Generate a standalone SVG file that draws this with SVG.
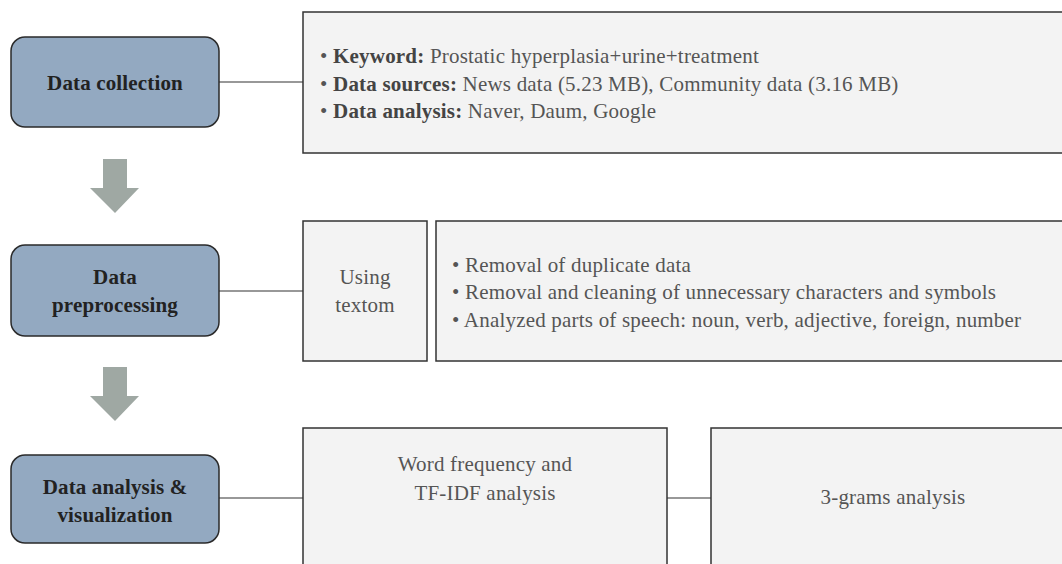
<svg xmlns="http://www.w3.org/2000/svg" width="1062" height="564" viewBox="0 0 1062 564">
<style>
.node{fill:#93a9c1;stroke:#2a2a2a;stroke-width:1.5}
.box{fill:#f3f3f3;stroke:#333;stroke-width:1.5}
.nt{font-family:"Liberation Serif",serif;font-size:21px;letter-spacing:0.15px;font-weight:bold;fill:#222;text-anchor:middle}
.bt{font-family:"Liberation Serif",serif;font-size:21px;letter-spacing:0.2px;fill:#555}
.b{font-weight:bold;fill:#444}
.c{text-anchor:middle}
.conn{stroke:#333;stroke-width:1.2;fill:none}
.arr{fill:#9fa8a3}
</style>
<rect width="1062" height="564" fill="#fff"/>
<g id="connectors">
<line class="conn" x1="219" y1="82" x2="303" y2="82"/>
<line class="conn" x1="219" y1="291" x2="303" y2="291"/>
<line class="conn" x1="219" y1="498" x2="303" y2="498"/>
<line class="conn" x1="667" y1="498" x2="711" y2="498"/>
<polygon class="arr" points="103,159 127,159 127,188 139,188 115,213 90,188 103,188"/>
<polygon class="arr" points="103,367 127,367 127,396 139,396 115,421 90,396 103,396"/>
</g>
<g id="node-collection">
<rect class="node" x="11" y="37" width="208" height="90" rx="14"/>
<text class="nt" x="115" y="90">Data collection</text>
</g>
<g id="box-collection">
<rect class="box" x="303" y="12" width="770" height="141"/>
<text class="bt" x="320" y="63">• <tspan class="b">Keyword:</tspan> Prostatic hyperplasia+urine+treatment</text>
<text class="bt" x="320" y="91">• <tspan class="b">Data sources:</tspan> News data (5.23 MB), Community data (3.16 MB)</text>
<text class="bt" x="320" y="118">• <tspan class="b">Data analysis:</tspan> Naver, Daum, Google</text>
</g>
<g id="node-preprocessing">
<rect class="node" x="11" y="245" width="208" height="91" rx="14"/>
<text class="nt" x="115" y="284">Data</text>
<text class="nt" x="115" y="312">preprocessing</text>
</g>
<g id="box-textom">
<rect class="box" x="303" y="221" width="124" height="140"/>
<text class="bt c" x="365" y="284">Using</text>
<text class="bt c" x="365" y="312">textom</text>
</g>
<g id="box-preprocessing">
<rect class="box" x="436" y="221" width="640" height="140"/>
<text class="bt" x="452" y="272">• Removal of duplicate data</text>
<text class="bt" x="452" y="299">• Removal and cleaning of unnecessary characters and symbols</text>
<text class="bt" x="452" y="327">• Analyzed parts of speech: noun, verb, adjective, foreign, number</text>
</g>
<g id="node-analysis">
<rect class="node" x="11" y="455" width="208" height="88" rx="14"/>
<text class="nt" x="115" y="494">Data analysis &amp;</text>
<text class="nt" x="115" y="522">visualization</text>
</g>
<g id="box-tfidf">
<rect class="box" x="303" y="428" width="364" height="150"/>
<text class="bt c" x="485" y="471">Word frequency and</text>
<text class="bt c" x="485" y="500">TF-IDF analysis</text>
</g>
<g id="box-3grams">
<rect class="box" x="711" y="428" width="370" height="150"/>
<text class="bt c" x="893" y="504">3-grams analysis</text>
</g>
</svg>
